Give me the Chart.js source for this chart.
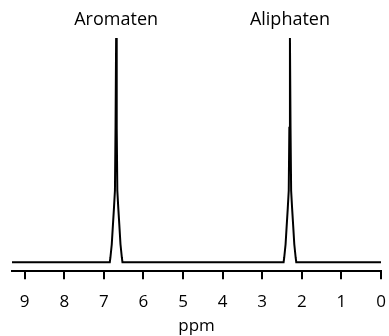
<!DOCTYPE html>
<html lang="de">
<head>
    <meta charset="UTF-8">
    <title>NMR Spektrum</title>
    <script src="https://cdn.jsdelivr.net/npm/chart.js"></script>
    <style>
        body { margin: 0; padding: 0; background: #fff; }
        #wrap { width: 389px; height: 336px; }
    </style>
</head>
<body>
    <div id="wrap"><canvas id="nmrChart"></canvas></div>
    <script>
        // spectrum (ppm, relative intensity)
        const ppm = [9.32,
                     6.85, 6.835, 6.80, 6.773, 6.745, 6.72, 6.705, 6.69, 6.675, 6.66, 6.635, 6.607, 6.58, 6.545, 6.53,
                     2.46, 2.445, 2.41, 2.383, 2.355, 2.33, 2.315, 2.30, 2.285, 2.27, 2.245, 2.217, 2.19, 2.155, 2.14,
                     0];
        const intensity = [0,
                           0, 2, 8, 16, 24, 32, 60, 100, 60, 32, 24, 16, 8, 2, 0,
                           0, 2, 8, 16, 24, 32, 60, 100, 60, 32, 24, 16, 8, 2, 0,
                           0];
        const tickValues = [0, 1, 2, 3, 4, 5, 6, 7, 8, 9];
        const peakLabels = ['Aromaten', 'Aliphaten'];
        const peakPositions = [6.69, 2.30];

        const points = ppm.map((p, i) => ({ x: p, y: intensity[i] }));

        const peakLabelPlugin = {
            id: 'peakLabels',
            afterDraw(chart) {
                const ctx = chart.ctx;
                const xs = chart.scales.x;
                ctx.save();
                ctx.fillStyle = '#000';
                ctx.font = '18px "Open Sans", sans-serif';
                ctx.textAlign = 'center';
                ctx.textBaseline = 'middle';
                peakLabels.forEach((t, i) => {
                    ctx.fillText(t, xs.getPixelForValue(peakPositions[i]), 20);
                });
                ctx.restore();
            }
        };

        const ctx = document.getElementById('nmrChart').getContext('2d');
        new Chart(ctx, {
            type: 'line',
            data: {
                datasets: [{
                    data: points,
                    borderColor: '#000',
                    borderWidth: 2,
                    pointRadius: 0,
                    tension: 0,
                    fill: false
                }]
            },
            options: {
                responsive: true,
                maintainAspectRatio: false,
                animation: false,
                layout: { padding: { left: 12, right: 8, top: 38, bottom: 0 } },
                plugins: { legend: { display: false }, tooltip: { enabled: false } },
                scales: {
                    x: {
                        type: 'linear',
                        reverse: true,
                        min: 0,
                        max: 9.32,
                        afterBuildTicks: (axis) => { axis.ticks = tickValues.map(v => ({ value: v })); },
                        grid: { drawOnChartArea: false, drawTicks: true, tickLength: 8, color: '#000', lineWidth: 2 },
                        border: { display: true, color: '#000', width: 2 },
                        ticks: {
                            color: '#000',
                            font: { family: 'Open Sans', size: 17 },
                            padding: 13,
                            maxRotation: 0,
                            autoSkip: false
                        },
                        title: {
                            display: true,
                            text: 'ppm',
                            color: '#000',
                            font: { family: 'Open Sans', size: 17 },
                            padding: { top: -10, bottom: 0 }
                        }
                    },
                    y: { display: false, min: -4, max: 100 }
                }
            },
            plugins: [peakLabelPlugin]
        });
    </script>
</body>
</html>
